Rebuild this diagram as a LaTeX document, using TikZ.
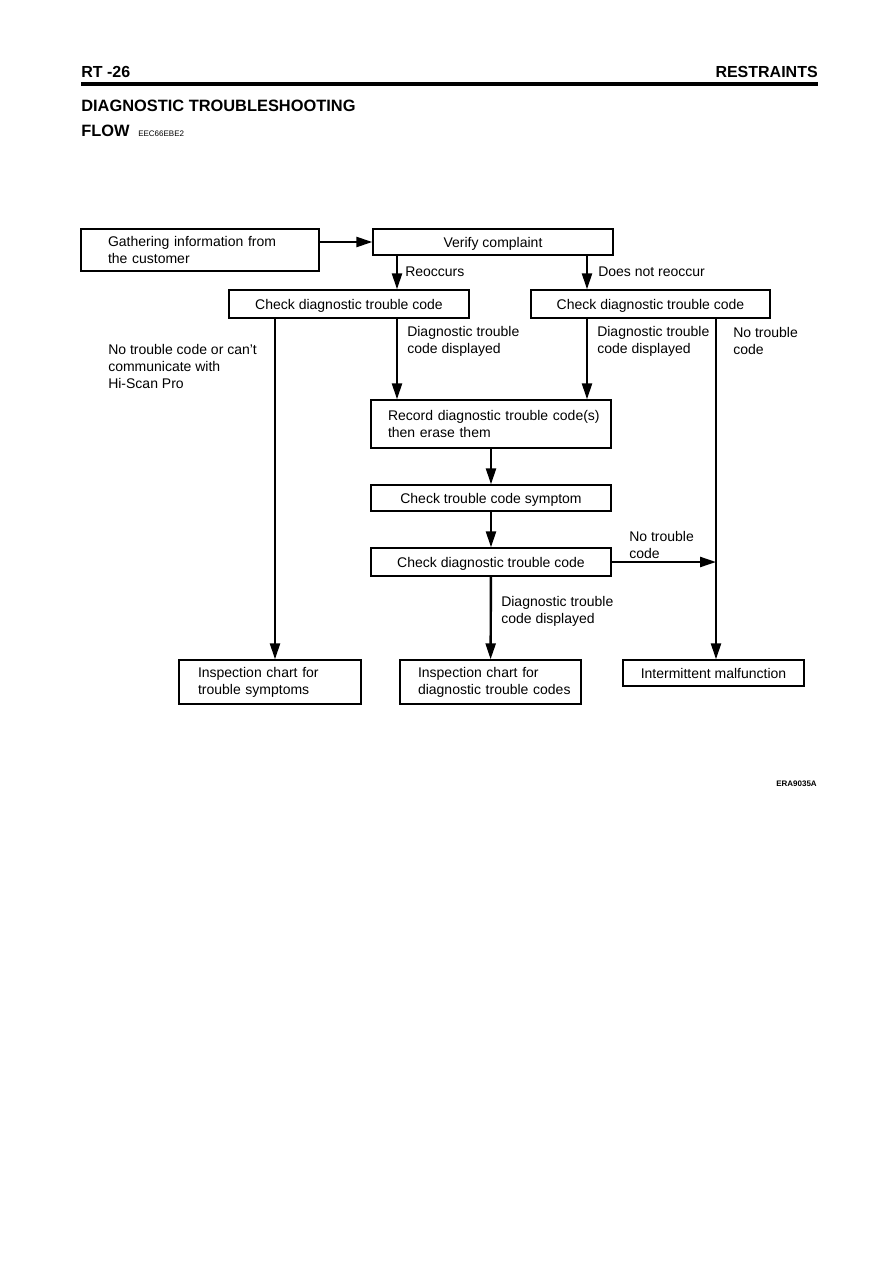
\documentclass[tikz,border=0pt]{standalone}
\usepackage{fontspec}
\setmainfont{Liberation Sans}
\usetikzlibrary{arrows.meta,positioning}
\tikzset{
  basebox/.style={rectangle,draw=black,line width=1pt,inner sep=0pt,
                  font=\fontsize{10.5}{12.75}\selectfont},
  onerow/.style={basebox,text height=9pt,text depth=0.8pt},
  widebox/.style={onerow,minimum width=180pt,minimum height=21pt},
  lowbox/.style={onerow,minimum width=180pt,minimum height=19.5pt},
  leftbox/.style={basebox,align=left},
  arr/.style={-{Triangle[length=12pt,width=7.5pt]},line width=1.8pt},
  lbl/.style={anchor=west,align=left,inner sep=0pt,
              font=\fontsize{10.5}{12.75}\selectfont},
  headtxt/.style={inner sep=0pt,font=\bfseries\fontsize{12}{14}\selectfont}
}
\begin{document}
\begin{tikzpicture}[x=0.75pt,y=-0.75pt]
  \useasboundingbox (0,0) rectangle (893,1263);
  % page heading
  \node[headtxt,anchor=base west] (pgno) at (81,78) {RT -26};
  \node[headtxt,anchor=base east] (sect) at (818,78) {RESTRAINTS};
  \fill (81,82) rectangle (818,86);
  \node[headtxt,anchor=base west,font=\bfseries\fontsize{12.3}{14}\selectfont]
      (ttl) at (81,112) {DIAGNOSTIC TROUBLESHOOTING};
  \node[headtxt,anchor=base west,font=\bfseries\fontsize{12.3}{14}\selectfont]
      (flw) at (81,136) {FLOW};
  \node[headtxt,anchor=base west,font=\fontsize{6}{7}\selectfont]
      (ref) at (138,136) {EEC66EBE2};
  \node[headtxt,anchor=base east,font=\bfseries\fontsize{6}{7}\selectfont]
      (fig) at (817,786) {ERA9035A};

  % boxes
  \node[leftbox,text width=138pt,inner xsep=20.25pt,minimum height=31.5pt]
      (gather) at (200,250)
      {\mbox{Gathering information from}\\the customer};
  \node[lowbox] (verify) at (493,242) {Verify complaint};
  \node[widebox] (chk1) at (349,304) {Check diagnostic trouble code};
  \node[widebox,minimum width=179.25pt] (chk2) at (650.5,304)
      {Check diagnostic trouble code};
  \node[leftbox,text width=154.5pt,inner xsep=12.75pt,minimum height=36pt]
      (record) at (491,424)
      {\mbox{Record diagnostic trouble code(s)}\\then erase them};
  \node[lowbox] (symp) at (491,498) {Check trouble code symptom};
  \node[widebox] (chk3) at (491,562) {Check diagnostic trouble code};
  \node[leftbox,text width=108pt,inner xsep=14.25pt,minimum height=33pt]
      (insp1) at (270,682) {\mbox{Inspection chart for}\\\mbox{trouble symptoms}};
  \node[leftbox,text width=108.75pt,inner xsep=13.5pt,minimum height=33pt]
      (insp2) at (490.5,682)
      {\mbox{Inspection chart for}\\\mbox{diagnostic trouble codes}};
  \node[lowbox,minimum width=135.75pt] (interm) at (713.5,673)
      {Intermittent malfunction};

  % columns of the connectors
  \coordinate (colL) at (275,0);
  \coordinate (colA) at (397,0);
  \coordinate (colB) at (587,0);
  \coordinate (colR) at (716,0);

  % connectors
  \draw[arr] (gather.east |- verify) -- (verify.west);
  \draw[arr] (verify.south -| colA) -- (chk1.north -| colA);
  \draw[arr] (verify.south -| colB) -- (chk2.north -| colB);
  \draw[arr] (chk1.south -| colL) -- (insp1.north -| colL);
  \draw[arr] (chk1.south -| colA) -- (record.north -| colA);
  \draw[arr] (chk2.south -| colB) -- (record.north -| colB);
  \draw[arr] (chk2.south -| colR) -- (interm.north -| colR);
  \draw[arr] (record) -- (symp);
  \draw[arr] (symp) -- (chk3);
  \draw[arr] (chk3.east) -- (chk3.east -| colR);
  \draw[arr] (chk3) -- (insp2);

  % labels
  \node[lbl] (lReo) at (405,272) {Reoccurs};
  \node[lbl] (lNot) at (598,272) {Does not reoccur};
  \node[lbl] (lDtc1) at (407,341) {Diagnostic trouble\\code displayed};
  \node[lbl] (lDtc2) at (597,341) {Diagnostic trouble\\code displayed};
  \node[lbl] (lNtc1) at (733,341) {No trouble\\code};
  \node[lbl] (lCant) at (108,366)
      {No trouble code or can't\\communicate with\\Hi-Scan Pro};
  \node[lbl] (lNtc2) at (629,544.5) {No trouble\\code};
  \node[lbl] (lDtc3) at (501,611.5) {Diagnostic trouble\\code displayed};
\end{tikzpicture}
\end{document}
